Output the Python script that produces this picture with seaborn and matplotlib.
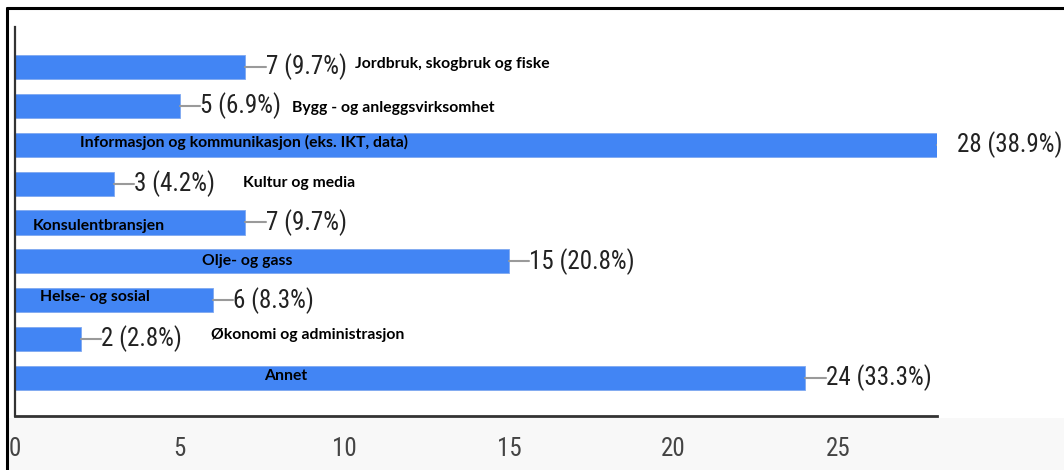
import matplotlib
matplotlib.use("Agg")
import matplotlib.pyplot as plt
from matplotlib import font_manager as fm
from matplotlib.lines import Line2D
from matplotlib.patches import Rectangle
import seaborn as sns
import pandas as pd

# Survey answers per industry
categories = [
    "Jordbruk, skogbruk og fiske",
    "Bygg - og anleggsvirksomhet",
    "Informasjon og kommunikasjon (eks. IKT, data)",
    "Kultur og media",
    "Konsulentbransjen",
    "Olje- og gass",
    "Helse- og sosial",
    "Økonomi og administrasjon",
    "Annet",
]
counts = [7, 5, 28, 3, 7, 15, 6, 2, 24]
percents = [9.7, 6.9, 38.9, 4.2, 9.7, 20.8, 8.3, 2.8, 33.3]
x_ticks = [0, 5, 10, 15, 20, 25]

# Hand-placed spots for the category names (x in data units, y offset in rows)
name_pos = [
    (10.33, -0.08), (8.41, 0.05), (1.97, -0.05), (6.92, -0.02), (0.55, 0.09),
    (5.68, -0.01), (0.76, -0.09), (5.95, -0.11), (7.56, -0.06),
]

BAR = "#4285F4"


def pick_narrow_font():
    """Return (family, stretch) for the narrowest sans face available."""
    entries = fm.fontManager.ttflist
    names = {f.name for f in entries}
    for fam in ("Liberation Sans Narrow", "Arial Narrow", "Roboto Condensed",
                "Open Sans Condensed", "Noto Sans Condensed", "DejaVu Sans Condensed"):
        if fam in names:
            return fam, "normal"
    for f in entries:
        if f.name in ("Roboto", "Noto Sans", "Open Sans", "DejaVu Sans") and \
                str(f.stretch) in ("condensed", "semi-condensed", "extra-condensed"):
            return f.name, f.stretch
    for f in entries:
        if ("Narrow" in f.name or "Condensed" in f.name) and "Mono" not in f.name \
                and "Serif" not in f.name:
            return f.name, "normal"
    return "Roboto", "normal"


narrow_family, narrow_stretch = pick_narrow_font()

sns.set_theme(style="white")
plt.rcParams["font.family"] = ["Liberation Sans", "DejaVu Sans"]

W, H = 1064, 470
fig = plt.figure(figsize=(W / 100, H / 100), dpi=100)
fig.patch.set_facecolor("white")
renderer = fig.canvas.get_renderer()

# size the number font so "7 (9.7%)" spans about 81 px
probe = fig.text(0, 0, "7 (9.7%)", family=[narrow_family, "DejaVu Sans"],
                 stretch=narrow_stretch, fontsize=19)
probe_w = probe.get_window_extent(renderer).width
probe.remove()
num_size = min(20.0, 19 * 81.0 / probe_w)
NUM_FONT = dict(family=[narrow_family, "DejaVu Sans"], stretch=narrow_stretch,
                fontsize=num_size)

# light band under the plot area and the frame lines
fig.add_artist(Rectangle((8 / W, 0), 1 - 8 / W, (H - 418) / H,
                         transform=fig.transFigure, facecolor="#f8f8f8",
                         edgecolor="none", zorder=0))
fig.add_artist(Line2D([7 / W, 7 / W], [0, 1 - 8 / H], transform=fig.transFigure,
                      color="black", lw=2.2))
fig.add_artist(Line2D([7 / W, 1], [1 - 8 / H, 1 - 8 / H], transform=fig.transFigure,
                      color="black", lw=2.2))

ax = fig.add_axes([15 / W, 1 - 416 / H, (937 - 15) / W, (416 - 27) / H])
ax.set_facecolor("white")

df = pd.DataFrame({"kategori": categories, "antall": counts})
sns.barplot(data=df, x="antall", y="kategori", orient="h", color=BAR,
            saturation=1, width=0.62, ax=ax, edgecolor="#7fa8f0", linewidth=0.6)

ax.set_xlim(0, 28)
ax.set_ylim(8.98, -1.03)
ax.set_xlabel("")
ax.set_ylabel("")
ax.set_yticks([])
ax.set_xticks(x_ticks)
ax.set_xticklabels([str(t) for t in x_ticks], color="#444444", **NUM_FONT)
ax.tick_params(axis="x", length=0, pad=15)

for side in ("top", "right"):
    ax.spines[side].set_visible(False)
ax.spines["left"].set_color("#333333")
ax.spines["left"].set_linewidth(1.6)
ax.spines["bottom"].set_color("#333333")
ax.spines["bottom"].set_linewidth(2.0)

# value labels with leader lines
for i, (c, p) in enumerate(zip(counts, percents)):
    ax.plot([c, c + 0.62], [i, i], color="#9a9a9a", lw=1.5, clip_on=True, zorder=3)
    ax.text(c + 0.62, i, f"{c} ({p:.1f}%)", color="#222222", va="center",
            ha="left", clip_on=False, **NUM_FONT)

# category names
for i, (name, (nx, dy)) in enumerate(zip(categories, name_pos)):
    ax.text(nx, i + dy, name, family=["Lato", "DejaVu Sans"], fontweight="bold",
            fontsize=11.3, color="black", va="center", ha="left", zorder=4,
            clip_on=False)

fig.savefig("out.png", dpi=100)
